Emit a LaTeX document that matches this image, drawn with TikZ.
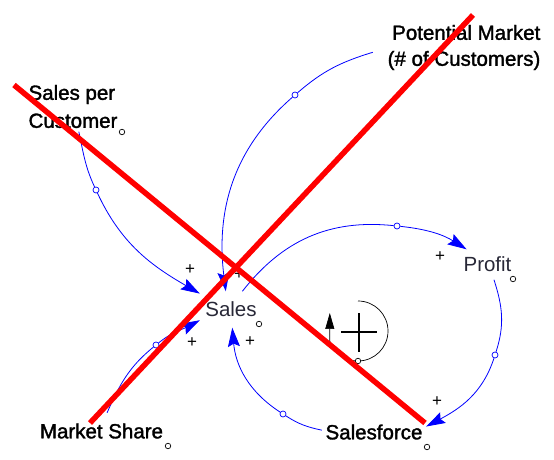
\documentclass[tikz,border=0pt]{standalone}
\usepackage{fontspec}
\setmainfont{Liberation Sans}
\newfontfamily\heavyfont[FakeBold=1.6]{Liberation Sans}
\usetikzlibrary{arrows.meta}
\definecolor{linkBlue}{RGB}{0,0,255}
\definecolor{crossRed}{RGB}{255,0,0}
\definecolor{varGray}{RGB}{40,40,55}

\begin{document}
\begin{tikzpicture}[x=1pt, y=1pt,
  var/.style={inner sep=0pt, font=\heavyfont\fontsize{20.5}{28}\selectfont},
  soft/.style={inner sep=0pt, text=varGray, font=\fontsize{20.5}{24}\selectfont},
  tag/.style={circle, draw, fill=white, inner sep=0pt, minimum size=5.5pt, line width=0.7pt},
  handle/.style={circle, draw=linkBlue, fill=white, inner sep=0pt, minimum size=6pt, line width=0.7pt},
  link/.style={linkBlue, line width=0.8pt, -{Stealth[length=19pt, width=12pt, inset=3pt]}},
  pol/.style={inner sep=0pt, font=\fontsize{17}{17}\selectfont},
  cross/.style={crossRed, line width=5.5pt},
]
  \useasboundingbox (0,0) rectangle (554,460);
  % variables
  \node[var, align=left, minimum width=96pt, minimum height=50pt] (spc) at (73,353.5) {Sales per\\Customer};
  \node[var, align=right, minimum width=182pt, minimum height=50pt,
        font=\heavyfont\fontsize{20.5}{26}\selectfont] (pm) at (464,412.5) {Potential Market\\(\# of Customers)};
  \node[soft, minimum width=62pt, minimum height=36pt] (sales) at (231,150.5) {Sales};
  \node[soft, minimum width=56pt, minimum height=30pt] (profit) at (487.5,195.5) {Profit};
  \node[var, minimum width=130pt, minimum height=36pt] (ms) at (101.5,29) {Market Share};
  \node[var, minimum width=104pt, minimum height=30pt] (sf) at (374,28) {Salesforce};
  % small markers
  \node[tag] (spcTag) at (122,328) {};
  \node[tag] (salesTag) at (259,136) {};
  \node[tag] (profitTag) at (513,181) {};
  \node[tag] (msTag) at (168,14) {};
  \node[tag] (sfTag) at (427,13) {};
  % arc handles
  \node[handle] (h1) at (96,270) {};
  \node[handle] (h2) at (295,365) {};
  \node[handle] (h3) at (397,234) {};
  \node[handle] (h4) at (495,105) {};
  \node[handle] (h5) at (283,46) {};
  \node[handle] (h6) at (156,115) {};
  % links
  \draw[link] (spc.-77) to[out=-78, in=115] (h1) to[out=-65, in=150] (sales.153);
  \draw[link] (pm.183) to[out=197, in=41] (h2) to[out=221, in=97] (sales.106);
  \draw[link] (sales.58) to[out=52, in=174] (h3) to[out=-6, in=148] (profit.144);
  \draw[link] (profit.-67) to[out=-72, in=72] (h4) to[out=-108, in=28] (sf.6);
  \draw[link] (sf.178) to[out=168, in=-33] (h5) to[out=147, in=-85] (sales.274);
  \draw[link] (ms.73) to[out=66, in=219] (h6) to[out=39, in=208] (sales.199);
  % polarities
  \node[pol] (p1) at (190,190) {+};
  \node[pol] (p2) at (239,185) {+};
  \node[pol] (p3) at (440,203) {+};
  \node[pol] (p4) at (437,58) {+};
  \node[pol] (p5) at (250,118) {+};
  \node[pol] (p6) at (192,117) {+};
  % loop symbol
  \draw[line width=0.7pt, -{Triangle[length=16pt, width=9pt]}]
    (358,159) arc[start angle=90, end angle=-160, radius=30] -- (329.8,147);
  \node[tag] (loopTag) at (358,99) {};
  \draw[line width=2.5pt] (341,128) -- (377,128) (359,108) -- (359,147);
  % crossing out
  \draw[cross] (14,375) -- (425,37);
  \draw[cross] (90,37) -- (473,445);
\end{tikzpicture}
\end{document}
